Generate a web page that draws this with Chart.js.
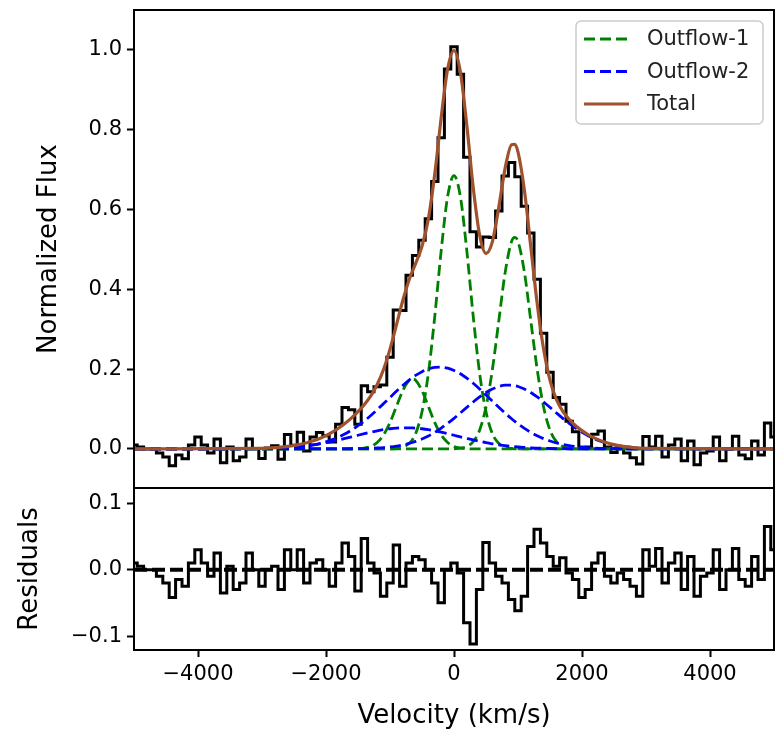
<!DOCTYPE html>
<html>
<head>
<meta charset="utf-8">
<script src="https://cdn.jsdelivr.net/npm/chart.js@4.4.1/dist/chart.umd.min.js"></script>
<style>
  html, body { margin: 0; padding: 0; background: #fff; }
  #wrap { position: relative; width: 776px; height: 733px; }
  #fluxChart { position: absolute; left: 0; top: 0; }
  #residChart { position: absolute; left: 0; top: 488px; }
</style>
</head>
<body>
<div id="wrap">
  <canvas id="fluxChart" width="776" height="490"></canvas>
  <canvas id="residChart" width="776" height="245"></canvas>
</div>
<script>
// Observed spectrum, bin centres (km/s)
const velocity = [
  -5000, -4900, -4800, -4700, -4600, -4500, -4400, -4300, -4200, -4100,
  -4000, -3900, -3800, -3700, -3600, -3500, -3400, -3300, -3200, -3100,
  -3000, -2900, -2800, -2700, -2600, -2500, -2400, -2300, -2200, -2100,
  -2000, -1900, -1800, -1700, -1600, -1500, -1400, -1300, -1200, -1100,
  -1000, -900, -800, -700, -600, -500, -400, -300, -200, -100,
  0, 100, 200, 300, 400, 500, 600, 700, 800, 900,
  1000, 1100, 1200, 1300, 1400, 1500, 1600, 1700, 1800, 1900,
  2000, 2100, 2200, 2300, 2400, 2500, 2600, 2700, 2800, 2900,
  3000, 3100, 3200, 3300, 3400, 3500, 3600, 3700, 3800, 3900,
  4000, 4100, 4200, 4300, 4400, 4500, 4600, 4700, 4800, 4900,
  5000
];

// Normalized flux
const flux = [
  0.010, 0.005, 0.000, 0.000, -0.010, -0.020, -0.042, -0.015, -0.025, 0.010,
  0.030, 0.010, -0.010, 0.025, -0.035, 0.005, -0.030, -0.020, 0.025, 0.001,
  -0.024, 0.002, 0.008, -0.026, 0.036, 0.009, 0.042, -0.005, 0.030, 0.041,
  0.033, 0.017, 0.062, 0.104, 0.098, 0.062, 0.158, 0.143, 0.156, 0.160,
  0.230, 0.348, 0.347, 0.435, 0.485, 0.523, 0.577, 0.670, 0.780, 0.952,
  1.008, 0.939, 0.731, 0.544, 0.506, 0.531, 0.530, 0.596, 0.684, 0.718,
  0.682, 0.608, 0.541, 0.425, 0.290, 0.192, 0.129, 0.112, 0.069, 0.043,
  0.004, 0.005, 0.037, 0.045, 0.005, -0.009, 0.002, -0.010, -0.022, -0.038,
  0.031, 0.005, 0.032, -0.020, 0.010, 0.025, -0.030, 0.020, -0.040, -0.010,
  -0.005, 0.030, -0.030, 0.000, 0.032, -0.015, -0.025, 0.020, -0.015, 0.065,
  0.030
];

// Residuals (data - total fit)
const residual = [
  0.010, 0.005, 0.000, 0.000, -0.010, -0.020, -0.042, -0.015, -0.025, 0.010,
  0.030, 0.010, -0.010, 0.025, -0.035, 0.005, -0.030, -0.020, 0.025, 0.000,
  -0.025, 0.000, 0.005, -0.030, 0.030, 0.000, 0.030, -0.020, 0.010, 0.015,
  0.000, -0.025, 0.010, 0.040, 0.020, -0.032, 0.047, 0.010, -0.005, -0.040,
  -0.020, 0.037, -0.025, 0.010, 0.020, 0.015, 0.000, -0.020, -0.050, 0.000,
  0.010, -0.005, -0.080, -0.112, -0.030, 0.041, 0.010, -0.010, -0.020, -0.045,
  -0.062, -0.040, 0.035, 0.061, 0.040, 0.020, 0.005, 0.018, -0.005, -0.015,
  -0.042, -0.030, 0.010, 0.025, -0.010, -0.020, -0.005, -0.015, -0.025, -0.040,
  0.030, 0.005, 0.032, -0.020, 0.010, 0.025, -0.030, 0.020, -0.040, -0.010,
  -0.005, 0.030, -0.030, 0.000, 0.032, -0.015, -0.025, 0.020, -0.015, 0.065,
  0.030
];

// Fit model grid (km/s)
const modelVelocity = [
  -5000,
  -3000, -2900, -2800, -2700, -2600, -2500, -2400, -2300, -2200, -2100,
  -2000, -1900, -1800, -1700, -1600, -1500, -1400, -1300, -1200, -1100,
  -1000, -900, -800, -700, -650,
  -600, -500, -400, -300, -200, -100,
  0, 100, 200, 300, 400, 500, 600, 700, 800, 900, 950,
  1000, 1100, 1200, 1300, 1400, 1500, 1600, 1700, 1800, 1900,
  2000, 2100, 2200, 2300, 2400, 2500, 2600, 2700, 2800, 2900,
  3000, 5000
];

// Outflow-1 components (narrow, green)
const outflow1Core = [
  0,
  0, 0, 0, 0, 0, 0, 0, 0, 0, 0,
  0, 0, 0, 0, 0, 0, 0, 0, 0, 0,
  0, 0.001, 0.004, 0.014, 0.023,
  0.038, 0.093, 0.190, 0.333, 0.497, 0.632,
  0.685, 0.632, 0.497, 0.333, 0.190, 0.093, 0.038, 0.014, 0.004, 0.001, 0,
  0, 0, 0, 0, 0, 0, 0, 0, 0, 0,
  0, 0, 0, 0, 0, 0, 0, 0, 0, 0,
  0, 0
];
const outflow1Red = [
  0,
  0, 0, 0, 0, 0, 0, 0, 0, 0, 0,
  0, 0, 0, 0, 0, 0, 0, 0, 0, 0,
  0, 0, 0, 0, 0,
  0, 0, 0, 0, 0, 0,
  0, 0.002, 0.006, 0.018, 0.047, 0.105, 0.199, 0.321, 0.443, 0.520, 0.530,
  0.520, 0.443, 0.321, 0.199, 0.105, 0.047, 0.018, 0.006, 0.002, 0,
  0, 0, 0, 0, 0, 0, 0, 0, 0, 0,
  0, 0
];
const outflow1Blue = [
  0,
  0, 0, 0, 0, 0, 0, 0, 0, 0, 0,
  0, 0, 0, 0, 0, 0.0005, 0.002, 0.006, 0.016, 0.035,
  0.066, 0.106, 0.146, 0.172, 0.175,
  0.172, 0.146, 0.106, 0.066, 0.035, 0.016,
  0.006, 0.002, 0.0005, 0, 0, 0, 0, 0, 0, 0, 0,
  0, 0, 0, 0, 0, 0, 0, 0, 0, 0,
  0, 0, 0, 0, 0, 0, 0, 0, 0, 0,
  0, 0
];

// Outflow-2 components (broad, blue)
const outflow2Core = [
  0,
  0.0005, 0.0008, 0.0012, 0.0017, 0.0025, 0.0037, 0.0052, 0.0072, 0.0099, 0.0133,
  0.0177, 0.0232, 0.0299, 0.0379, 0.0473, 0.0582, 0.0704, 0.0838, 0.0983, 0.1135,
  0.1290, 0.1444, 0.1590, 0.1725, 0.1786,
  0.1842, 0.1936, 0.2004, 0.2042, 0.2049, 0.2023,
  0.1967, 0.1883, 0.1774, 0.1646, 0.1503, 0.1352, 0.1197, 0.1043, 0.0895, 0.0756, 0.0691,
  0.0629, 0.0515, 0.0415, 0.0329, 0.0257, 0.0198, 0.0150, 0.0112, 0.0082, 0.0059,
  0.0042, 0.0029, 0.0020, 0.0014, 0.0009, 0.0006, 0.0004, 0.0002, 0.0001, 0.0001,
  0, 0
];
const outflow2Red = [
  0,
  0, 0, 0, 0, 0, 0, 0, 0, 0, 0,
  0, 0.0001, 0.0001, 0.0002, 0.0004, 0.0006, 0.0009, 0.0014, 0.0022, 0.0033,
  0.0049, 0.0070, 0.0100, 0.0138, 0.0161,
  0.0187, 0.0249, 0.0325, 0.0415, 0.0520, 0.0637,
  0.0765, 0.0901, 0.1040, 0.1175, 0.1301, 0.1412, 0.1501, 0.1564, 0.1596, 0.1596, 0.1584,
  0.1564, 0.1501, 0.1412, 0.1301, 0.1175, 0.1040, 0.0901, 0.0765, 0.0637, 0.0520,
  0.0415, 0.0325, 0.0249, 0.0187, 0.0138, 0.0100, 0.0070, 0.0049, 0.0033, 0.0022,
  0.0014, 0
];
const outflow2Blue = [
  0,
  0.0010, 0.0014, 0.0020, 0.0027, 0.0037, 0.0048, 0.0063, 0.0081, 0.0103, 0.0128,
  0.0156, 0.0189, 0.0224, 0.0262, 0.0301, 0.0342, 0.0381, 0.0418, 0.0452, 0.0482,
  0.0505, 0.0521, 0.0529, 0.0529, 0.0526,
  0.0521, 0.0505, 0.0482, 0.0452, 0.0418, 0.0381,
  0.0342, 0.0301, 0.0262, 0.0224, 0.0189, 0.0156, 0.0128, 0.0103, 0.0081, 0.0063, 0.0055,
  0.0048, 0.0037, 0.0027, 0.0020, 0.0014, 0.0010, 0.0007, 0.0005, 0.0003, 0.0002,
  0.0001, 0, 0, 0, 0, 0, 0, 0, 0, 0,
  0, 0
];

// Total fit
const totalFit = [
  0,
  0.0015, 0.0022, 0.0032, 0.0044, 0.0062, 0.0085, 0.0115, 0.0153, 0.0202, 0.0261,
  0.0334, 0.0422, 0.0524, 0.0643, 0.0778, 0.0935, 0.1113, 0.1330, 0.1613, 0.1996,
  0.2501, 0.3105, 0.3719, 0.4247, 0.4453,
  0.4645, 0.5080, 0.5771, 0.6896, 0.8303, 0.9517,
  0.9984, 0.9444, 0.8111, 0.6555, 0.5363, 0.4900, 0.5196, 0.6060, 0.7042, 0.7625, 0.7635,
  0.7441, 0.6483, 0.5064, 0.3640, 0.2496, 0.1718, 0.1238, 0.0942, 0.0742, 0.0581,
  0.0458, 0.0354, 0.0269, 0.0201, 0.0147, 0.0106, 0.0074, 0.0051, 0.0034, 0.0023,
  0.0014, 0
];

// zero reference line for residuals
const zeroLineX = [-5000, 5000];
const zeroLineY = [0, 0];

// ticks
const velocityTicks = [-4000, -2000, 0, 2000, 4000];
const fluxTicks = [0, 0.2, 0.4, 0.6, 0.8, 1.0];
const residualTicks = [-0.1, 0, 0.1];

const legendLabels = ['Outflow-1', 'Outflow-2', 'Total'];

// ---- helpers ----
const pts = (xs, ys) => xs.map((x, i) => ({ x: x, y: ys[i] }));
const minus = s => String(s).replace('-', '\u2212');

Chart.defaults.font.family = "'DejaVu Sans', sans-serif";
Chart.defaults.color = '#000';

// keep the plot box where it is: no extra room for half tick labels
const noPad = s => { s.paddingTop = 0; s.paddingBottom = 0; s.paddingLeft = 0; s.paddingRight = 0; };

const framePlugin = {
  id: 'frame',
  afterDraw(chart) {
    const { ctx, chartArea: a } = chart;
    ctx.save();
    ctx.strokeStyle = '#000';
    ctx.lineWidth = 2;
    ctx.strokeRect(a.left, a.top, a.right - a.left, a.bottom - a.top);
    ctx.restore();
  }
};

const boxLegend = {
  id: 'boxLegend',
  afterDraw(chart, args, opts) {
    if (!opts.labels) return;
    const ctx = chart.ctx;
    ctx.save();
    ctx.beginPath();
    ctx.roundRect(opts.x, opts.y, opts.w, opts.h, 5);
    ctx.fillStyle = 'rgba(255,255,255,0.8)';
    ctx.fill();
    ctx.strokeStyle = '#cccccc';
    ctx.lineWidth = 1.5;
    ctx.stroke();
    opts.labels.forEach((label, i) => {
      const ds = chart.data.datasets.find(d => d.label === label);
      const y = opts.y + opts.first + i * opts.gap;
      ctx.beginPath();
      ctx.setLineDash(ds.borderDash || []);
      ctx.strokeStyle = ds.borderColor;
      ctx.lineWidth = ds.borderWidth;
      ctx.moveTo(opts.x + 8, y);
      ctx.lineTo(opts.x + 53, y);
      ctx.stroke();
      ctx.setLineDash([]);
      ctx.fillStyle = '#222';
      ctx.font = opts.font;
      ctx.textBaseline = 'middle';
      ctx.textAlign = 'left';
      ctx.fillText(label, opts.x + 71, y + 1);
    });
    ctx.restore();
  }
};

const tickGrid = { drawOnChartArea: false, drawTicks: true, tickLength: 7, tickWidth: 2, color: '#000' };

const greenStyle = { borderColor: '#008000', borderWidth: 2.8, borderDash: [11, 5], pointRadius: 0, fill: false, cubicInterpolationMode: 'monotone' };
const blueStyle = { borderColor: '#0000ff', borderWidth: 2.8, borderDash: [11, 5], pointRadius: 0, fill: false, cubicInterpolationMode: 'monotone' };

new Chart(document.getElementById('fluxChart'), {
  type: 'line',
  data: {
    datasets: [
      { label: 'Total', data: pts(modelVelocity, totalFit), borderColor: '#a0522d', borderWidth: 3.2, pointRadius: 0, fill: false, cubicInterpolationMode: 'monotone' },
      Object.assign({ label: 'Outflow-2', data: pts(modelVelocity, outflow2Core) }, blueStyle),
      Object.assign({ label: 'Outflow-2', data: pts(modelVelocity, outflow2Red) }, blueStyle),
      Object.assign({ label: 'Outflow-2', data: pts(modelVelocity, outflow2Blue) }, blueStyle),
      Object.assign({ label: 'Outflow-1', data: pts(modelVelocity, outflow1Core) }, greenStyle),
      Object.assign({ label: 'Outflow-1', data: pts(modelVelocity, outflow1Red) }, greenStyle),
      Object.assign({ label: 'Outflow-1', data: pts(modelVelocity, outflow1Blue) }, greenStyle),
      { label: 'Data', data: pts(velocity, flux), borderColor: '#000', borderWidth: 3, pointRadius: 0, stepped: 'middle', fill: false }
    ]
  },
  options: {
    responsive: false,
    animation: false,
    events: [],
    layout: { padding: { top: 10, right: 2, bottom: 2, left: 0 } },
    scales: {
      x: { type: 'linear', display: false, min: -5000, max: 5000 },
      y: {
        type: 'linear', min: -0.098, max: 1.100,
        afterFit: s => { s.width = 134; noPad(s); },
        afterBuildTicks: s => { s.ticks = fluxTicks.map(v => ({ value: v })); },
        border: { display: false },
        grid: tickGrid,
        ticks: { padding: 5, font: { size: 21 }, callback: v => minus(v.toFixed(1)) },
        title: { display: true, text: 'Normalized Flux', font: { size: 26 }, padding: { top: 34, bottom: 0 } }
      }
    },
    plugins: {
      legend: { display: false },
      tooltip: { enabled: false },
      boxLegend: { labels: legendLabels, x: 576, y: 21, w: 187, h: 103, first: 18, gap: 32.5, font: "21px 'DejaVu Sans'" }
    }
  },
  plugins: [framePlugin, boxLegend]
});

new Chart(document.getElementById('residChart'), {
  type: 'line',
  data: {
    datasets: [
      { label: 'Zero', data: pts(zeroLineX, zeroLineY), borderColor: '#000', borderWidth: 4, borderDash: [13, 5], pointRadius: 0, fill: false },
      { label: 'Residuals', data: pts(velocity, residual), borderColor: '#000', borderWidth: 3, pointRadius: 0, stepped: 'middle', fill: false }
    ]
  },
  options: {
    responsive: false,
    animation: false,
    events: [],
    layout: { padding: { top: 0, right: 2, bottom: 0, left: 0 } },
    scales: {
      x: {
        type: 'linear', min: -5000, max: 5000,
        afterFit: s => { s.height = 83; noPad(s); },
        afterBuildTicks: s => { s.ticks = velocityTicks.map(v => ({ value: v })); },
        border: { display: false },
        grid: tickGrid,
        ticks: { padding: 5, font: { size: 21 }, maxRotation: 0, callback: v => minus(v) },
        title: { display: true, text: 'Velocity (km/s)', font: { size: 26 }, padding: { top: 0, bottom: 1 } }
      },
      y: {
        type: 'linear', min: -0.121, max: 0.123,
        afterFit: s => { s.width = 134; noPad(s); },
        afterBuildTicks: s => { s.ticks = residualTicks.map(v => ({ value: v })); },
        border: { display: false },
        grid: tickGrid,
        ticks: { padding: 5, font: { size: 21 }, callback: v => minus(v.toFixed(1)) },
        title: { display: true, text: 'Residuals', font: { size: 26 }, padding: { top: 15, bottom: 0 } }
      }
    },
    plugins: {
      legend: { display: false },
      tooltip: { enabled: false }
    }
  },
  plugins: [framePlugin]
});
</script>
</body>
</html>
